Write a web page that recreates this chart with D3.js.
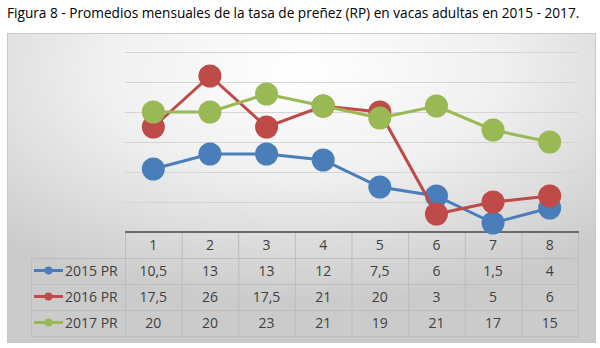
<!DOCTYPE html>
<html><head><meta charset="utf-8">
<script src="https://cdn.jsdelivr.net/npm/d3@7"></script>
<style>body{margin:0;background:#fff}svg{display:block}</style>
</head><body>
<svg id="c" width="600" height="348"></svg>
<script>
const title = "Figura 8 - Promedios mensuales de la tasa de preñez (RP) en vacas adultas en 2015 - 2017.";
const categories = ["1","2","3","4","5","6","7","8"];
const seriesNames = ["2015 PR","2016 PR","2017 PR"];
const s2015 = [10.5,13,13,12,7.5,6,1.5,4];
const s2016 = [17.5,26,17.5,21,20,3,5,6];
const s2017 = [20,20,23,21,19,21,17,15];
const labels2015 = ["10,5","13","13","12","7,5","6","1,5","4"];
const labels2016 = ["17,5","26","17,5","21","20","3","5","6"];
const labels2017 = ["20","20","23","21","19","21","17","15"];
const yTicks = [0,5,10,15,20,25,30];
const colors = ["#4a7ebb","#be4b48","#98b954"];

const series = [s2015,s2016,s2017];
const labelRows = [labels2015,labels2016,labels2017];
const svg = d3.select("#c");
const defs = svg.append("defs");
const g = defs.append("radialGradient").attr("id","bg")
  .attr("cx","0.5").attr("cy","0.12").attr("r","0.75").attr("fx","0.5").attr("fy","0.12");
g.append("stop").attr("offset","0%").attr("stop-color","#ffffff");
g.append("stop").attr("offset","45%").attr("stop-color","#f0f0f0");
g.append("stop").attr("offset","100%").attr("stop-color","#cbcbcb");

// title
const t = svg.append("text").attr("x",7).attr("y",18)
  .attr("font-family","'Open Sans', sans-serif").attr("font-size",13).attr("fill","#000").text(title);
const w = t.node().getComputedTextLength();
t.attr("font-size", 13*573/w);

// chart box
svg.append("rect").attr("x",7.5).attr("y",33.5).attr("width",588).attr("height",309)
  .attr("fill","url(#bg)").attr("stroke","#c8c8c8");

const left = 125, right = 578;
const x = d3.scaleBand().domain(categories).range([left,right]);
const y = d3.scaleLinear().domain([0,30]).range([232,52]);

// gridlines
svg.append("g").selectAll("line").data(yTicks.slice(1)).join("line")
  .attr("x1",left).attr("x2",right).attr("y1",d=>Math.round(y(d))+0.5).attr("y2",d=>Math.round(y(d))+0.5)
  .attr("stroke","#d4d4d4").attr("stroke-width",1);

// table
const rowTop = [232,258,284,310,336];
const tbl = svg.append("g");
// vertical lines
categories.forEach((c,i)=>{
  const xx = x(c);
  tbl.append("line").attr("x1",xx+0.5).attr("x2",xx+0.5).attr("y1",232).attr("y2",336).attr("stroke","#bdbdbd");
});
tbl.append("line").attr("x1",right+0.5).attr("x2",right+0.5).attr("y1",232).attr("y2",336).attr("stroke","#bdbdbd");
tbl.append("line").attr("x1",31.5).attr("x2",31.5).attr("y1",258).attr("y2",336).attr("stroke","#bdbdbd");
// horizontal lines
[258,284,310,336].forEach(yy=>{
  tbl.append("line").attr("x1",31).attr("x2",right+1).attr("y1",yy+0.5).attr("y2",yy+0.5).attr("stroke","#bdbdbd");
});
tbl.append("line").attr("x1",left).attr("x2",right+1).attr("y1",232).attr("y2",232).attr("stroke","#6a6a6a").attr("stroke-width",2);

const font = "'Open Sans', sans-serif";
tbl.selectAll("text.h").data(categories).join("text").attr("class","h")
  .attr("x",d=>x(d)+x.bandwidth()/2).attr("y",250).attr("text-anchor","middle")
  .attr("font-family",font).attr("font-size",14).attr("fill","#404040").text(d=>d);
labelRows.forEach((row,r)=>{
  tbl.append("g").selectAll("text").data(row).join("text")
    .attr("x",(d,i)=>x(categories[i])+x.bandwidth()/2).attr("y",rowTop[r+1]+18)
    .attr("text-anchor","middle").attr("font-family",font).attr("font-size",14).attr("fill","#404040").text(d=>d);
  const ly = rowTop[r+1]+12.5;
  tbl.append("line").attr("x1",34).attr("x2",63).attr("y1",ly).attr("y2",ly).attr("stroke",colors[r]).attr("stroke-width",3);
  tbl.append("circle").attr("cx",48.5).attr("cy",ly).attr("r",4).attr("fill",colors[r]);
  tbl.append("text").attr("x",65).attr("y",rowTop[r+1]+18).attr("font-family",font).attr("font-size",14)
    .attr("fill","#404040").text(seriesNames[r]);
});

// lines
const line = d3.line().x((d,i)=>x(categories[i])+x.bandwidth()/2).y(d=>y(d));
series.forEach((s,k)=>{
  const gg = svg.append("g");
  gg.append("path").datum(s).attr("d",line).attr("fill","none").attr("stroke",colors[k]).attr("stroke-width",3);
  gg.selectAll("circle").data(s).join("circle")
    .attr("cx",(d,i)=>x(categories[i])+x.bandwidth()/2).attr("cy",d=>y(d)).attr("r",11.5).attr("fill",colors[k]);
});
</script>
</body></html>
